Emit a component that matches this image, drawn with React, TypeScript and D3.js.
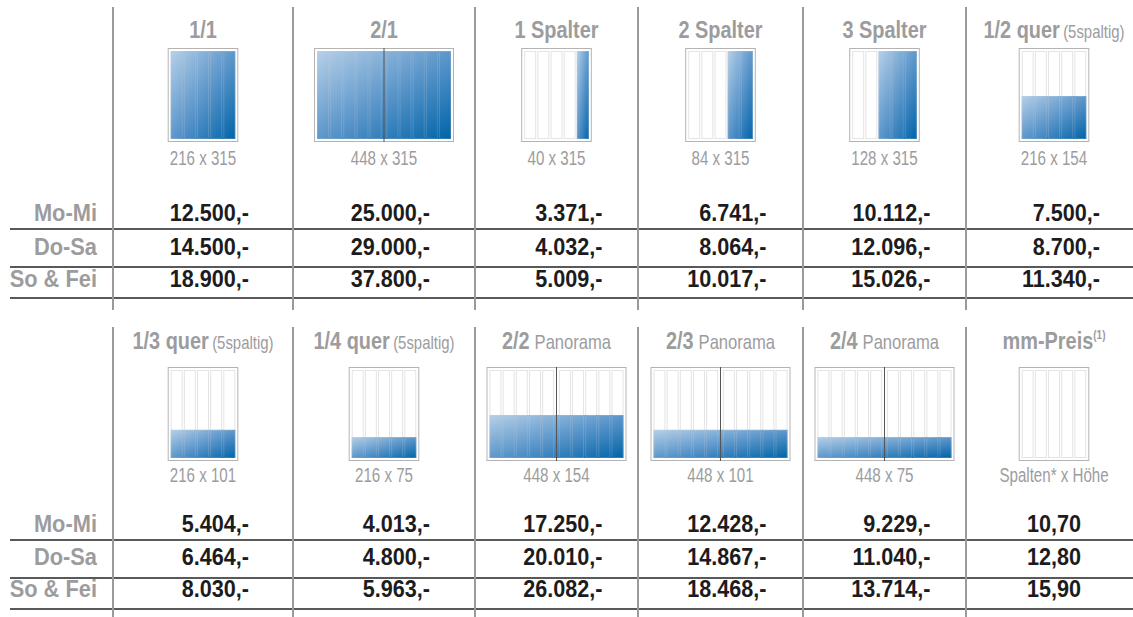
import React, { useEffect, useRef } from 'react';
import * as d3 from 'd3';

// row headers (days)
const rowLabels = ['Mo-Mi', 'Do-Sa', 'So & Fei'];

// upper block
const topFormats = ['1/1', '2/1', '1 Spalter', '2 Spalter', '3 Spalter', '1/2 quer'];
const topNotes = ['', '', '', '', '', '(5spaltig)'];
const topWidthMm = [216, 448, 40, 84, 128, 216];
const topHeightMm = [315, 315, 315, 315, 315, 154];
const topMoMi = [12500, 25000, 3371, 6741, 10112, 7500];
const topDoSa = [14500, 29000, 4032, 8064, 12096, 8700];
const topSoFei = [18900, 37800, 5009, 10017, 15026, 11340];

// lower block (last column = price per mm, no ad shape)
const bottomFormats = ['1/3 quer', '1/4 quer', '2/2', '2/3', '2/4', 'mm-Preis'];
const bottomNotes = ['(5spaltig)', '(5spaltig)', 'Panorama', 'Panorama', 'Panorama', '(1)'];
const bottomWidthMm = [216, 216, 448, 448, 448, 0];
const bottomHeightMm = [101, 75, 154, 101, 75, 0];
const bottomMoMi = [5404, 4013, 17250, 12428, 9229, 10.7];
const bottomDoSa = [6464, 4800, 20010, 14867, 11040, 12.8];
const bottomSoFei = [8030, 5963, 26082, 18468, 13714, 15.9];
const mmLabel = 'Spalten* x Höhe';

const PAGE_W = 216;
const PAGE_H = 315;
const COL_W = 40;
const COL_GAP = 4;
const GUTTER = 16;

const FONT = "'Liberation Sans', Arial, Helvetica, sans-serif";
const GRAY = '#9c9c9e';

const de = d3.formatLocale({ decimal: ',', thousands: '.', grouping: [3], currency: ['', '€'] });
const fmtInt = de.format(',d');
const fmtMm = de.format(',.2f');

const App = () => {
  const svgRef = useRef<SVGSVGElement>(null);

  useEffect(() => {
    const svg = d3.select(svgRef.current);
    svg.selectAll('*').remove();
    const width = 1133;

    const colEdges = [113, 293, 475, 638, 803, 966, 1142];
    const colCenter = (i: number) => (colEdges[i] + colEdges[i + 1]) / 2;

    // mm -> px inside a page frame
    const x = d3.scaleLinear().domain([0, PAGE_W * 2 + GUTTER]).range([0, 134]);
    const y = d3.scaleLinear().domain([0, PAGE_H]).range([0, 88]);
    const pad = 3;

    // text squeezed horizontally to mimic the condensed face
    const label = (parent: any, tx: number, ty: number, sx: number, anchor: string) =>
      parent.append('text')
        .attr('transform', `translate(${tx},${ty}) scale(${sx},1)`)
        .attr('text-anchor', anchor)
        .attr('font-family', FONT);

    const defs = svg.append('defs');
    const grad = defs.append('linearGradient')
      .attr('id', 'adFill')
      .attr('x1', 0).attr('y1', 0).attr('x2', 1).attr('y2', 1);
    grad.append('stop').attr('offset', '0%').attr('stop-color', '#b6d0e8');
    grad.append('stop').attr('offset', '55%').attr('stop-color', '#5592c8');
    grad.append('stop').attr('offset', '100%').attr('stop-color', '#0064a8');

    const blocks = [
      {
        formats: topFormats, notes: topNotes, w: topWidthMm, h: topHeightMm,
        prices: [topMoMi, topDoSa, topSoFei],
        titleY: 38, frameY: 48, dimY: 165, rowY: [221, 255, 287], lineY: [229, 267, 298], vTop: 7, vBot: 310,
      },
      {
        formats: bottomFormats, notes: bottomNotes, w: bottomWidthMm, h: bottomHeightMm,
        prices: [bottomMoMi, bottomDoSa, bottomSoFei],
        titleY: 349, frameY: 367, dimY: 482, rowY: [532, 565, 597], lineY: [540, 578, 609], vTop: 327, vBot: 617,
      },
    ];

    blocks.forEach((b) => {
      const g = svg.append('g');

      // horizontal rules
      g.selectAll('line.h')
        .data(b.lineY)
        .enter()
        .append('line')
        .attr('x1', 10).attr('x2', width)
        .attr('y1', d => d).attr('y2', d => d)
        .attr('stroke', '#222').attr('stroke-width', 1.4);

      // vertical separators
      g.selectAll('line.v')
        .data(colEdges.slice(0, 6))
        .enter()
        .append('line')
        .attr('x1', d => d).attr('x2', d => d)
        .attr('y1', b.vTop).attr('y2', b.vBot)
        .attr('stroke', '#9a9a9d').attr('stroke-width', 2);

      // row labels
      rowLabels.forEach((d, r) => {
        label(g, 97, b.rowY[r], 0.95, 'end')
          .attr('font-weight', 700)
          .attr('font-size', 23)
          .attr('fill', GRAY)
          .text(d);
      });

      b.formats.forEach((name, i) => {
        const cx = colCenter(i);
        const perMm = b.w[i] === 0;

        // title
        const t = label(g, cx, b.titleY, 0.83, 'middle').attr('fill', GRAY);
        t.append('tspan').attr('font-weight', 700).attr('font-size', 24).text(name);
        if (b.notes[i]) {
          if (perMm) {
            t.append('tspan').attr('font-weight', 700).attr('font-size', 12).attr('dy', -10).text(b.notes[i]);
          } else {
            const big = b.notes[i] === 'Panorama';
            t.append('tspan')
              .attr('font-size', big ? 20 : 18)
              .attr('dx', big ? 6 : 4)
              .text(b.notes[i]);
          }
        }

        // page frame
        const twoPages = b.w[i] > PAGE_W;
        const totalMm = twoPages ? PAGE_W * 2 + GUTTER : PAGE_W;
        const fw = x(totalMm) + pad * 2;
        const fh = y(PAGE_H) + pad * 2;
        const fg = g.append('g').attr('transform', `translate(${cx - fw / 2},${b.frameY})`);
        fg.append('rect')
          .attr('x', 0.5).attr('y', 0.5)
          .attr('width', fw - 1).attr('height', fh - 1)
          .attr('fill', '#fff').attr('stroke', '#b3b3b5').attr('stroke-width', 1);

        const cols: number[] = [];
        const pages = twoPages ? [0, PAGE_W + GUTTER] : [0];
        pages.forEach(p => d3.range(5).forEach(k => cols.push(p + k * (COL_W + COL_GAP))));

        const inner = fg.append('g').attr('transform', `translate(${pad},${pad})`);
        inner.selectAll('rect.col')
          .data(cols)
          .enter()
          .append('rect')
          .attr('x', d => x(d) + 0.5)
          .attr('y', 0.5)
          .attr('width', x(COL_W) - 1)
          .attr('height', y(PAGE_H) - 1)
          .attr('fill', '#fff')
          .attr('stroke', '#e4e4e6');

        if (!perMm) {
          inner.append('rect')
            .attr('x', x(totalMm - b.w[i]))
            .attr('y', y(PAGE_H - b.h[i]))
            .attr('width', x(b.w[i]))
            .attr('height', y(b.h[i]))
            .attr('fill', 'url(#adFill)');
          // faint column guides over the ad
          inner.selectAll('rect.over')
            .data(cols.filter(c => c >= totalMm - b.w[i] - 0.1))
            .enter()
            .append('rect')
            .attr('x', d => x(d) + 0.5)
            .attr('y', y(PAGE_H - b.h[i]) + 0.5)
            .attr('width', x(COL_W) - 1)
            .attr('height', y(b.h[i]) - 1)
            .attr('fill', 'none')
            .attr('stroke', '#c8d2dc')
            .attr('stroke-opacity', 0.22);
        }
        if (twoPages) {
          fg.append('line')
            .attr('x1', fw / 2).attr('x2', fw / 2)
            .attr('y1', 0).attr('y2', fh)
            .attr('stroke', '#555').attr('stroke-width', 1);
        }

        // size label
        label(g, cx, b.dimY, 0.72, 'middle')
          .attr('font-size', 21)
          .attr('fill', GRAY)
          .text(perMm ? mmLabel : `${b.w[i]} x ${b.h[i]}`);

        // prices
        b.prices.forEach((row, r) => {
          label(g, perMm ? cx : cx + 46, b.rowY[r], 0.9, perMm ? 'middle' : 'end')
            .attr('font-weight', 700)
            .attr('font-size', 24)
            .attr('fill', '#1c1c1e')
            .text(perMm ? fmtMm(row[i]) : fmtInt(row[i]) + ',-');
        });
      });
    });
  }, []);

  return (
    <svg
      ref={svgRef}
      width={1133}
      height={617}
      style={{ position: 'absolute', left: 0, top: 0, background: '#fff' }}
    />
  );
};

export default App;
